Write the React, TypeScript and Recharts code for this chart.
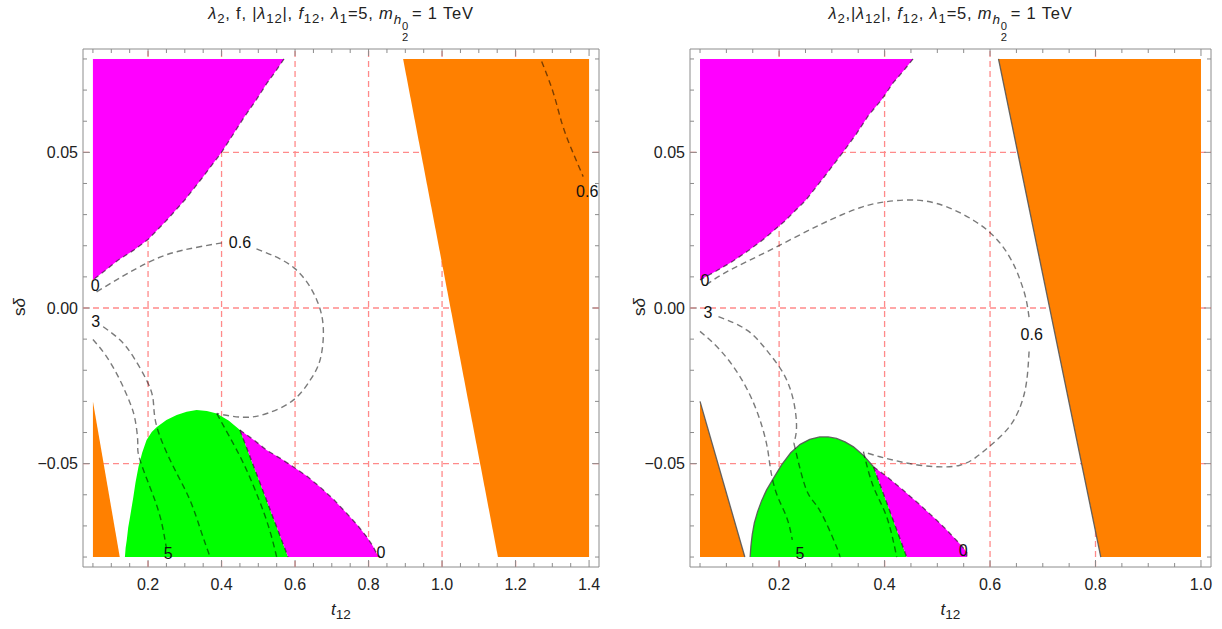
import React from 'react';
import { ScatterChart, Scatter, XAxis, YAxis } from 'recharts';

// ---------- shared
const yDomain: [number, number] = [-0.0832, 0.0832];
const yTicks = [-0.08, -0.07, -0.06, -0.05, -0.04, -0.03, -0.02, -0.01, 0, 0.01, 0.02, 0.03, 0.04, 0.05, 0.06, 0.07, 0.08];
const yMajor = [-0.05, 0, 0.05];
const yGrid = [-0.05, 0, 0.05];

// ---------- left panel
const xDomainL: [number, number] = [0.023, 1.427];
const xTicksL = [0.05, 0.1, 0.15, 0.2, 0.25, 0.3, 0.35, 0.4, 0.45, 0.5, 0.55, 0.6, 0.65, 0.7, 0.75, 0.8, 0.85, 0.9, 0.95, 1.0, 1.05, 1.1, 1.15, 1.2, 1.25, 1.3, 1.35, 1.4];
const xMajorL = [0.2, 0.4, 0.6, 0.8, 1.0, 1.2, 1.4];
const xGridL = [0.2, 0.4, 0.6, 0.8, 1.0, 1.2];

const magentaTopEdgeL = [[0.57, 0.08], [0.548, 0.0762], [0.524, 0.0723], [0.494, 0.0668], [0.46, 0.061], [0.43, 0.0555], [0.4, 0.05], [0.35, 0.0422], [0.3, 0.0347], [0.25, 0.0281], [0.2, 0.022], [0.16, 0.0185], [0.12, 0.0155], [0.085, 0.0122], [0.05, 0.009]];
const orangeSmallL = [[0.05, -0.03], [0.123, -0.08], [0.05, -0.08]];
const orangeBigL = [[0.894, 0.08], [1.4, 0.08], [1.4, -0.08], [1.152, -0.08]];
const greenDomeL = [[0.137, -0.08], [0.139, -0.077], [0.142, -0.0746], [0.146, -0.0705], [0.151, -0.0671], [0.16, -0.0607], [0.166, -0.056], [0.174, -0.051], [0.184, -0.0465], [0.196, -0.0424], [0.21, -0.0398], [0.224, -0.0382], [0.25, -0.036], [0.278, -0.0344], [0.305, -0.0333], [0.332, -0.0328], [0.36, -0.0331], [0.387, -0.0339], [0.42, -0.0362], [0.45, -0.0392]];
const splitL = [[0.45, -0.0392], [0.581, -0.08]];
const magentaLowEdgeL = [[0.45, -0.0392], [0.487, -0.0423], [0.523, -0.0457], [0.56, -0.0483], [0.595, -0.051], [0.632, -0.054], [0.668, -0.0575], [0.705, -0.0615], [0.741, -0.066], [0.77, -0.0698], [0.795, -0.0735], [0.812, -0.0765], [0.822, -0.0789], [0.831, -0.08]];

const contourAL = [[0.05, -0.0101], [0.0876, -0.0157], [0.1237, -0.0232], [0.151, -0.0305], [0.165, -0.036], [0.172, -0.043], [0.1755, -0.0478], [0.205, -0.0575], [0.233, -0.0671], [0.25, -0.0772]];
const contourBL = [[0.078, -0.006], [0.124, -0.0103], [0.16, -0.0157], [0.196, -0.0232], [0.214, -0.0296], [0.224, -0.0382], [0.269, -0.051], [0.314, -0.0617], [0.345, -0.072], [0.369, -0.08]];
const contourC1L = [[0.06, 0.0052], [0.196, 0.0144], [0.296, 0.0186], [0.41, 0.0211]];
const contourC2L = [[0.495, 0.019], [0.598, 0.0128], [0.659, 0.0026], [0.677, -0.0071], [0.668, -0.0167], [0.641, -0.0232], [0.595, -0.0296], [0.523, -0.0339], [0.459, -0.0351], [0.387, -0.0339]];
const contourC3L = [[0.387, -0.0339], [0.42, -0.041], [0.46, -0.05], [0.5, -0.061], [0.53, -0.071], [0.55, -0.08]];
const contourTopRightL = [[1.271, 0.0792], [1.303, 0.069], [1.326, 0.0594], [1.353, 0.0508], [1.384, 0.0422]];

const labelsL = [
  { x: 0.056, y: 0.0071, t: '0' },
  { x: 0.0576, y: -0.0044, t: '3' },
  { x: 0.45, y: 0.0209, t: '0.6' },
  { x: 0.255, y: -0.0789, t: '5' },
  { x: 0.834, y: -0.0785, t: '0' },
  { x: 1.395, y: 0.0373, t: '0.6' },
];

// ---------- right panel
const xDomainR: [number, number] = [0.031, 1.019];
const xTicksR = [0.05, 0.1, 0.15, 0.2, 0.25, 0.3, 0.35, 0.4, 0.45, 0.5, 0.55, 0.6, 0.65, 0.7, 0.75, 0.8, 0.85, 0.9, 0.95, 1.0];
const xMajorR = [0.2, 0.4, 0.6, 0.8, 1.0];
const xGridR = [0.2, 0.4, 0.6, 0.8];

const magentaTopEdgeR = [[0.454, 0.08], [0.436, 0.0762], [0.416, 0.0723], [0.394, 0.0668], [0.37, 0.062], [0.346, 0.0558], [0.321, 0.05], [0.285, 0.042], [0.25, 0.0345], [0.21, 0.0278], [0.17, 0.022], [0.14, 0.0182], [0.11, 0.0148], [0.08, 0.0118], [0.05, 0.009]];
const orangeSmallR = [[0.05, -0.03], [0.135, -0.08], [0.05, -0.08]];
const orangeBigR = [[0.616, 0.08], [1.0, 0.08], [1.0, -0.08], [0.81, -0.08]];
const greenDomeR = [[0.145, -0.08], [0.1465, -0.0765], [0.149, -0.0728], [0.153, -0.069], [0.159, -0.0655], [0.167, -0.0618], [0.176, -0.0585], [0.19, -0.0545], [0.205, -0.0503], [0.222, -0.0465], [0.24, -0.0438], [0.258, -0.0422], [0.277, -0.0414], [0.293, -0.0414], [0.309, -0.0419], [0.325, -0.043], [0.341, -0.0446], [0.36, -0.0474], [0.379, -0.051]];
const splitR = [[0.379, -0.051], [0.442, -0.08]];
const magentaLowEdgeR = [[0.379, -0.051], [0.407, -0.0545], [0.435, -0.0585], [0.467, -0.0632], [0.499, -0.0682], [0.515, -0.0708], [0.53, -0.0735], [0.545, -0.0762], [0.556, -0.0785], [0.556, -0.08]];

const contourAR = [[0.05, -0.0075], [0.088, -0.0135], [0.126, -0.0221], [0.157, -0.0328], [0.176, -0.0435], [0.183, -0.051], [0.195, -0.0596], [0.214, -0.0671], [0.225, -0.0745]];
const contourBR = [[0.085, -0.0028], [0.139, -0.0071], [0.176, -0.0135], [0.208, -0.021], [0.227, -0.0296], [0.233, -0.0382], [0.228, -0.0434]];
const contourB2R = [[0.228, -0.0434], [0.252, -0.0585], [0.277, -0.065], [0.309, -0.0768], [0.315, -0.08]];
const contourC1R = [[0.062, 0.0075], [0.107, 0.0122], [0.183, 0.0186], [0.277, 0.0267], [0.353, 0.0322], [0.401, 0.0341], [0.454, 0.0347], [0.518, 0.0325], [0.594, 0.0251], [0.638, 0.0161], [0.657, 0.009], [0.668, 0.003], [0.674, -0.003]];
const contourC2R = [[0.674, -0.014], [0.669, -0.024], [0.657, -0.0318], [0.635, -0.0385], [0.602, -0.044], [0.573, -0.048], [0.543, -0.0505], [0.5, -0.051], [0.454, -0.0502], [0.42, -0.049], [0.391, -0.0478], [0.36, -0.0462]];
const contourC3R = [[0.36, -0.0462], [0.379, -0.0575], [0.404, -0.0671], [0.423, -0.08]];

const labelsR = [
  { x: 0.0595, y: 0.0087, t: '0' },
  { x: 0.065, y: -0.0016, t: '3' },
  { x: 0.679, y: -0.0084, t: '0.6' },
  { x: 0.2396, y: -0.0788, t: '5' },
  { x: 0.549, y: -0.0778, t: '0' },
];

// ---------- styling
const FONT = '"Liberation Sans", Arial, sans-serif';
const FRAME = '#8c8c8c';
const GRIDC = '#ff8a8a';
const MAG = '#ff00ff';
const ORA = '#ff8000';
const GRN = '#00ff00';

type Pt = { x: number; y: number };
const toPts = (a: number[][]): Pt[] => a.map(([x, y]) => ({ x, y }));

const Nothing = () => <g />;

const LabelShape = (p: any) => (
  <text x={p.cx} y={p.cy} textAnchor="middle" dominantBaseline="central" fontSize={16} fontFamily={FONT} fill="#111">
    {p.payload?.t ?? p.t}
  </text>
);

const isMajor = (v: number, majors: number[]) => majors.some((m) => Math.abs(m - v) < 1e-9);
const fmtX = (v: number) => v.toFixed(1);
const fmtY = (v: number) => v.toFixed(2).replace('-', '\u2212');

function makeTick(side: 'bottom' | 'top' | 'left' | 'right', majors: number[], fmt?: (v: number) => string) {
  return (props: any) => {
    const { x, y, payload } = props;
    const v = payload.value;
    const major = isMajor(v, majors);
    const len = major ? 7 : 4;
    let line = null;
    let label = null;
    if (side === 'bottom') {
      line = <line x1={x} y1={y} x2={x} y2={y - len} stroke={FRAME} />;
      if (major && fmt) label = <text x={x} y={y + 17} textAnchor="middle" dominantBaseline="central" fontSize={16} fontFamily={FONT} fill="#222">{fmt(v)}</text>;
    } else if (side === 'top') {
      line = <line x1={x} y1={y} x2={x} y2={y + len} stroke={FRAME} />;
    } else if (side === 'left') {
      line = <line x1={x} y1={y} x2={x + len} y2={y} stroke={FRAME} />;
      if (major && fmt) label = <text x={x - 5} y={y} textAnchor="end" dominantBaseline="central" fontSize={16} fontFamily={FONT} fill="#222">{fmt(v)}</text>;
    } else {
      line = <line x1={x} y1={y} x2={x - len} y2={y} stroke={FRAME} />;
    }
    return <g>{line}{label}</g>;
  };
}

type Region = { pts: number[][]; fill: string };
type Curve = { pts: number[][]; stroke: string; opacity: number; dash?: string; width: number; smooth?: boolean };

function Panel(props: {
  xDomain: [number, number];
  xTicks: number[];
  xMajor: number[];
  xGrid: number[];
  regions: Region[];
  curves: Curve[];
  labels: { x: number; y: number; t: string }[];
  margin: { top: number; right: number; bottom: number; left: number };
}) {
  const { xDomain, xTicks, xMajor, xGrid, regions, curves, labels, margin } = props;
  const grid: Pt[][] = [
    ...xGrid.map((g) => [{ x: g, y: yDomain[0] }, { x: g, y: yDomain[1] }]),
    ...yGrid.map((g) => [{ x: xDomain[0], y: g }, { x: xDomain[1], y: g }]),
  ];
  return (
    <ScatterChart width={611} height={629} margin={margin}>
      {grid.map((d, i) => (
        <Scatter key={'g' + i} data={d} dataKey="y" shape={Nothing} isAnimationActive={false}
          line={{ stroke: GRIDC, strokeDasharray: '6 4', strokeWidth: 1.3, fill: 'none' }} />
      ))}
      {regions.map((r, i) => (
        <Scatter key={'r' + i} data={toPts(r.pts)} dataKey="y" shape={Nothing} isAnimationActive={false}
          line={{ stroke: 'none', fill: r.fill }} />
      ))}
      {curves.map((c, i) => (
        <Scatter key={'c' + i} data={toPts(c.pts)} dataKey="y" shape={Nothing} isAnimationActive={false}
          lineJointType={c.smooth ? 'natural' : 'linear'}
          line={{ stroke: c.stroke, strokeOpacity: c.opacity, strokeDasharray: c.dash, strokeWidth: c.width, fill: 'none' }} />
      ))}
      <Scatter data={labels} dataKey="y" shape={LabelShape} isAnimationActive={false} />
      <XAxis type="number" dataKey="x" domain={xDomain} ticks={xTicks} interval={0} allowDataOverflow
        height={40} tickSize={0} tickMargin={0} tickLine={false} axisLine={{ stroke: FRAME }}
        tick={makeTick('bottom', xMajor, fmtX)} />
      <XAxis xAxisId="top" orientation="top" type="number" dataKey="x" domain={xDomain} ticks={xTicks} interval={0} allowDataOverflow
        height={10} tickSize={0} tickMargin={0} tickLine={false} axisLine={{ stroke: FRAME }}
        tick={makeTick('top', xMajor)} />
      <YAxis type="number" dataKey="y" domain={yDomain} ticks={yTicks} interval={0} allowDataOverflow
        width={70} tickSize={0} tickMargin={0} tickLine={false} axisLine={{ stroke: FRAME }}
        tick={makeTick('left', yMajor, fmtY)} />
      <YAxis yAxisId="right" orientation="right" type="number" dataKey="y" domain={yDomain} ticks={yTicks} interval={0} allowDataOverflow
        width={10} tickSize={0} tickMargin={0} tickLine={false} axisLine={{ stroke: FRAME }}
        tick={makeTick('right', yMajor)} />
    </ScatterChart>
  );
}

const sub = { fontSize: '0.8em' } as const;

function Mh20() {
  return (
    <>
      <i>m</i>
      <span style={{ display: 'inline-block', verticalAlign: '-0.4em', fontSize: '0.82em' }}>
        <i>h</i>
      </span>
      <span style={{ display: 'inline-flex', flexDirection: 'column', fontSize: '0.68em', lineHeight: 1.05, verticalAlign: '-0.95em', marginRight: 3 }}>
        <span>0</span>
        <span>2</span>
      </span>
    </>
  );
}

const titleStyle = (left: number, width: number): React.CSSProperties => ({
  position: 'absolute', left, top: 4, width, textAlign: 'center', fontFamily: FONT, fontSize: 16.5, letterSpacing: 0.8, color: '#222', whiteSpace: 'nowrap',
});

const xLabelStyle = (left: number, width: number): React.CSSProperties => ({
  position: 'absolute', left, top: 600, width, textAlign: 'center', fontFamily: FONT, fontSize: 17, color: '#222',
});

const yLabelStyle = (cx: number): React.CSSProperties => ({
  position: 'absolute', left: cx - 20, top: 297, width: 40, textAlign: 'center', fontFamily: FONT, fontSize: 17, color: '#222',
  transform: 'rotate(-90deg)',
});

export default function App() {
  const dashEdge = { stroke: '#000', opacity: 0.55, dash: '5 4', width: 1.3 };
  const contour = { stroke: '#000', opacity: 0.52, dash: '6 4', width: 1.4, smooth: true };
  const solidEdge = { stroke: '#555', opacity: 0.9, width: 1.3 };

  const regionsL: Region[] = [
    { pts: [[0.05, 0.08], ...magentaTopEdgeL], fill: MAG },
    { pts: orangeSmallL, fill: ORA },
    { pts: orangeBigL, fill: ORA },
    { pts: [...greenDomeL, splitL[1]], fill: GRN },
    { pts: [...magentaLowEdgeL, splitL[1]], fill: MAG },
  ];
  const curvesL: Curve[] = [
    { pts: magentaTopEdgeL, ...dashEdge },
    { pts: magentaLowEdgeL, ...dashEdge },
    { pts: splitL, ...dashEdge },
    { pts: contourAL, ...contour },
    { pts: contourBL, ...contour },
    { pts: contourC1L, ...contour },
    { pts: contourC2L, ...contour },
    { pts: contourC3L, ...contour },
    { pts: contourTopRightL, ...contour },
  ];

  const regionsR: Region[] = [
    { pts: [[0.05, 0.08], ...magentaTopEdgeR], fill: MAG },
    { pts: orangeSmallR, fill: ORA },
    { pts: orangeBigR, fill: ORA },
    { pts: [...greenDomeR, splitR[1]], fill: GRN },
    { pts: [...magentaLowEdgeR, splitR[1]], fill: MAG },
  ];
  const curvesR: Curve[] = [
    { pts: magentaTopEdgeR, ...dashEdge },
    { pts: magentaLowEdgeR, ...dashEdge },
    { pts: splitR, ...dashEdge },
    { pts: greenDomeR, ...solidEdge },
    { pts: [orangeSmallR[0], orangeSmallR[1]], ...solidEdge },
    { pts: [orangeBigR[0], orangeBigR[3]], ...solidEdge },
    { pts: contourAR, ...contour },
    { pts: contourBR, ...contour },
    { pts: contourB2R, ...contour },
    { pts: contourC1R, ...contour },
    { pts: contourC2R, ...contour },
    { pts: contourC3R, ...contour },
  ];

  return (
    <div style={{ position: 'absolute', left: 0, top: 0, width: 1222, height: 629, background: '#fff' }}>
      <div style={{ position: 'absolute', left: 0, top: 0 }}>
        <Panel xDomain={xDomainL} xTicks={xTicksL} xMajor={xMajorL} xGrid={xGridL}
          regions={regionsL} curves={curvesL} labels={labelsL}
          margin={{ top: 39, right: 2, bottom: 22, left: 13 }} />
      </div>
      <div style={{ position: 'absolute', left: 611, top: 0 }}>
        <Panel xDomain={xDomainR} xTicks={xTicksR} xMajor={xMajorR} xGrid={xGridR}
          regions={regionsR} curves={curvesR} labels={labelsR}
          margin={{ top: 39, right: 1, bottom: 22, left: 9 }} />
      </div>

      <div style={titleStyle(83, 516)}>
        <i>λ</i><sub style={sub}>2</sub>, f, |<i>λ</i><sub style={sub}>12</sub>|, <i>f</i><sub style={sub}>12</sub>, <i>λ</i><sub style={sub}>1</sub>=5, <Mh20 />= 1 TeV
      </div>
      <div style={titleStyle(690, 521)}>
        <i>λ</i><sub style={sub}>2</sub>,|<i>λ</i><sub style={sub}>12</sub>|, <i>f</i><sub style={sub}>12</sub>, <i>λ</i><sub style={sub}>1</sub>=5, <Mh20 />= 1 TeV
      </div>

      <div style={xLabelStyle(83, 516)}><i>t</i><sub style={sub}>12</sub></div>
      <div style={xLabelStyle(690, 521)}><i>t</i><sub style={sub}>12</sub></div>
      <div style={yLabelStyle(20)}>s<i>δ</i></div>
      <div style={yLabelStyle(640)}>s<i>δ</i></div>
    </div>
  );
}
